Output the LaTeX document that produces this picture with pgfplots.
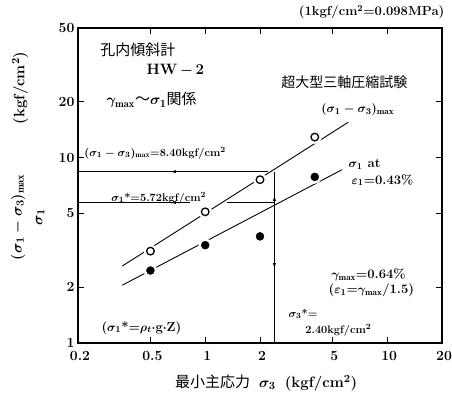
\documentclass[border=0pt]{standalone}
\usepackage{fontspec}
\usepackage{pgfplots}
\pgfplotsset{compat=1.18}
\usetikzlibrary{arrows.meta}
\newfontfamily\jp{Noto Sans CJK JP}
\pgfplotstableread{
x y
0.5 3.13
1 5.1
2 7.6
4 12.9
}\openpts
\pgfplotstableread{
x y
0.5 2.46
1 3.37
2 3.76
4 7.87
}\filledpts
\begin{document}
\boldmath
\begin{tikzpicture}
\begin{axis}[
 scale only axis, width=364pt, height=315pt,
 xmode=log, ymode=log,
 xmin=0.2, xmax=20, ymin=1, ymax=50,
 xtick={0.2,0.5,1,2,5,10,20}, xticklabels={0.2,0.5,1,2,5,10,20},
 ytick={1,2,5,10,20,50}, yticklabels={1,2,5,10,20,50},
 minor xtick={}, minor ytick={},
 tick align=inside, major tick length=6pt,
 tick style={black, line width=1pt},
 axis line style={line width=1.3pt},
 ticklabel style={font=\fontsize{14}{16}\selectfont\bfseries},
 xticklabel style={yshift=-5pt, xshift=2pt},
 clip=false,
 every node/.append style={inner sep=0pt, outer sep=0pt},
]
% reference lines
\addplot[black, line width=0.8pt] coordinates {(0.2,8.4) (2.2,8.4)};
\addplot[black, line width=0.8pt] coordinates {(0.2,5.72) (0.82,5.72)};
\addplot[black, line width=0.8pt] coordinates {(1.32,5.72) (2.4,5.72)};
\addplot[black, line width=0.8pt] coordinates {(2.4,1) (2.4,8.4)};
\draw[-{Latex[length=6pt,width=3pt]}, line width=0.8pt] (axis cs:0.78,8.4) -- (axis cs:0.64,8.4);
\draw[-{Latex[length=6pt,width=3pt]}, line width=0.8pt] (axis cs:0.78,5.72) -- (axis cs:0.64,5.72);
\draw[-{Latex[length=6pt,width=3pt]}, line width=0.8pt] (axis cs:2.4,5.7) -- (axis cs:2.4,6.3);
\draw[-{Latex[length=6pt,width=3pt]}, line width=0.8pt] (axis cs:2.4,2.9) -- (axis cs:2.4,2.5);
% fit lines
\addplot[black, line width=0.9pt] coordinates {(0.35,2.6) (6.1,15.5)};
\addplot[black, line width=0.9pt] coordinates {(0.35,2.05) (5.64,8.6)};
% halos
\addplot[only marks, mark=*, mark size=6.5pt, white] table {\openpts};
\addplot[only marks, mark=*, mark size=6.5pt, white] table {\filledpts};
% marks
\addplot[only marks, mark=o, mark size=3.8pt, mark options={fill=white, line width=1.3pt, draw=black}] table {\openpts};
\addplot[only marks, mark=*, mark size=4pt, black] table {\filledpts};
% annotations
\node[anchor=east] at (rel axis cs:1.016,1.051) {\fontsize{13}{15}\selectfont\bfseries (1kgf/cm$^{2}$=0.098MPa)};
\node[anchor=west] at (rel axis cs:0.052,0.930) {\fontsize{15}{17}\selectfont\jp 孔内傾斜計};
\node[anchor=west] at (rel axis cs:0.179,0.867) {\fontsize{15}{17}\selectfont\bfseries HW$\,-\,$2};
\node[anchor=west] at (rel axis cs:0.069,0.771) {\fontsize{15}{17}\selectfont $\gamma_{\max}${\jp 〜}$\sigma_1${\jp 関係}};
\node[anchor=west] at (rel axis cs:0.549,0.829) {\fontsize{14}{16}\selectfont\jp 超大型三軸圧縮試験};
\node[anchor=west] at (rel axis cs:0.659,0.740) {\fontsize{13}{15}\selectfont $(\sigma_1-\sigma_3)_{\max}$};
\node[anchor=west] at (rel axis cs:0.734,0.568) {\fontsize{13}{15}\selectfont\bfseries $\sigma_1$ at};
\node[anchor=west] at (rel axis cs:0.742,0.517) {\fontsize{13}{15}\selectfont\bfseries $\varepsilon_1$=0.43\%};
\node[anchor=west] at (rel axis cs:0.008,0.603) {\fontsize{11}{13}\selectfont\bfseries $(\sigma_1-\sigma_3)_{\max}$=8.40kgf/cm$^2$};
\node[anchor=west] at (rel axis cs:0.082,0.460) {\fontsize{11}{13}\selectfont\bfseries $\sigma_1$*=5.72kgf/cm$^2$};
\node[anchor=west] at (rel axis cs:0.687,0.216) {\fontsize{13}{15}\selectfont\bfseries $\gamma_{\max}$=0.64\%};
\node[anchor=west] at (rel axis cs:0.679,0.168) {\fontsize{13}{15}\selectfont\bfseries ($\varepsilon_1$=$\gamma_{\max}$/1.5)};
\node[anchor=west] at (rel axis cs:0.569,0.092) {\fontsize{11}{13}\selectfont\bfseries $\sigma_3$*=};
\node[anchor=west] at (rel axis cs:0.615,0.041) {\fontsize{11}{13}\selectfont\bfseries 2.40kgf/cm$^2$};
\node[anchor=west] at (rel axis cs:0.055,0.048) {\fontsize{13}{15}\selectfont\bfseries ($\sigma_1$*=$\rho_t\cdot$g$\cdot$Z)};
\node at (rel axis cs:0.517,-0.127) {\fontsize{15}{17}\selectfont{\jp 最小主応力}\ \ $\sigma_3$\ \ \bfseries(kgf/cm$^{2}$)};
\node[rotate=90] at (rel axis cs:-0.165,0.400) {\fontsize{15}{17}\selectfont $(\sigma_1-\sigma_3)_{\max}$};
\node[rotate=90] at (rel axis cs:-0.159,0.810) {\fontsize{15}{17}\selectfont\bfseries (kgf/cm$^{2}$)};
\node[rotate=90] at (rel axis cs:-0.104,0.400) {\fontsize{15}{17}\selectfont $\sigma_1$};
\end{axis}
\pgfresetboundingbox
\path ([shift={(-78pt,-60pt)}]current axis.south west) rectangle ([shift={(10pt,28pt)}]current axis.north east);
\end{tikzpicture}
\end{document}
